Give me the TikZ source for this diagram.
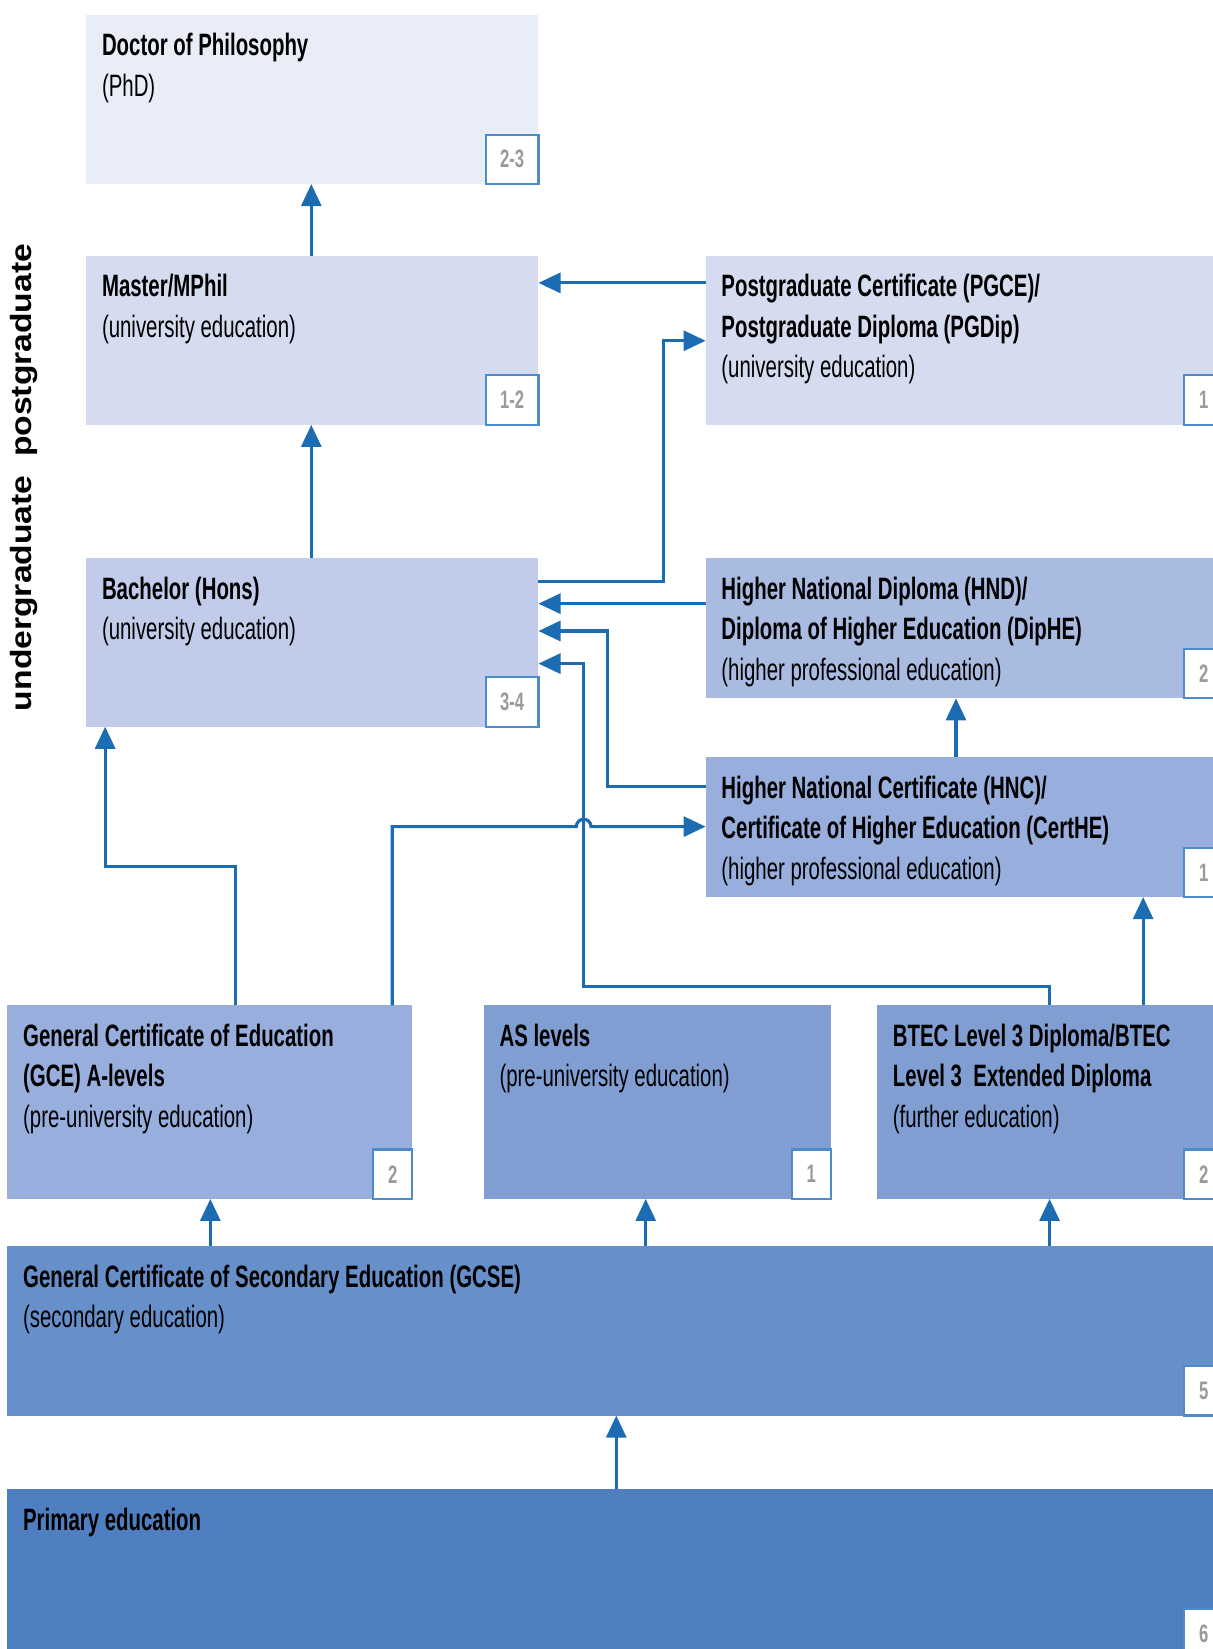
\documentclass[tikz,border=0pt]{standalone}
\usepackage{fontspec}
\usepackage{graphicx}
\setmainfont{Liberation Sans}
\newfontfamily\nfont{Liberation Sans}[FakeStretch=0.66]
\usetikzlibrary{fit,arrows.meta}

\definecolor{cPhD}{HTML}{E9EDF8}
\definecolor{cMaster}{HTML}{D6DCF0}
\definecolor{cBach}{HTML}{C1CCEA}
\definecolor{cHND}{HTML}{AABBE2}
\definecolor{cHNC}{HTML}{98AEDC}
\definecolor{cAS}{HTML}{809ED2}
\definecolor{cGCSE}{HTML}{678FC9}
\definecolor{cPrim}{HTML}{4F7FC0}
\definecolor{arrowblue}{HTML}{1C6CB4}
\definecolor{badgeblue}{HTML}{4D8ACB}
\definecolor{badgegray}{HTML}{9A9A9A}

\tikzset{
  box/.style={inner sep=0pt, outer sep=0pt, draw=none},
  lbl/.style={anchor=base west, inner sep=0pt, outer sep=0pt,
    font=\nfont\fontsize{14.7}{19.25}\selectfont},
  badge/.style={anchor=south east, draw=badgeblue, line width=1pt, fill=white,
    minimum height=23.5pt, minimum width=18.5pt, inner sep=0pt, outer sep=0pt,
    font=\nfont\bfseries\fontsize{12}{13}\selectfont, text=badgegray},
  widebadge/.style={badge, minimum width=25pt},
  arr/.style={draw=arrowblue, line width=1.5pt, -{Triangle[length=10.5pt,width=9.5pt]}},
}

\newcommand\edubox[7]{%
  \node[box, fill=#4, fit={#2 #3}] (#1) {};
  \node[lbl] (#1-t) at ([xshift=7.5pt,yshift=-19.5pt]#1.north west)
    {\begin{tabular}[t]{@{}l@{}}#5\end{tabular}};
  \node[#7] (#1-b) at (#1.south east) {#6};
}

\begin{document}
\begin{tikzpicture}[x=0.5pt, y=-0.5pt]
\useasboundingbox (0,0) rectangle (1153,1568);

% boxes
\edubox{phd}{(82,14)}{(512,175)}{cPhD}{\textbf{Doctor of Philosophy}\\(PhD)}{2-3}{widebadge}
\edubox{master}{(82,243)}{(512,404)}{cMaster}{\textbf{Master/MPhil}\\(university education)}{1-2}{widebadge}
\edubox{bach}{(82,531)}{(512,691)}{cBach}{\textbf{Bachelor (Hons)}\\(university education)}{3-4}{widebadge}
\edubox{pg}{(671,243)}{(1163,404)}{cMaster}{\textbf{Postgraduate Certificate (PGCE)/}\\\textbf{Postgraduate Diploma (PGDip)}\\(university education)}{1}{badge}
\edubox{hnd}{(671,531)}{(1163,664)}{cHND}{\textbf{Higher National Diploma (HND)/}\\\textbf{Diploma of Higher Education (DipHE)}\\(higher professional education)}{2}{badge}
\edubox{hnc}{(671,720)}{(1163,853)}{cHNC}{\textbf{Higher National Certificate (HNC)/}\\\textbf{Certificate of Higher Education (CertHE)}\\(higher professional education)}{1}{badge}
\edubox{gce}{(7,956)}{(392,1140)}{cHNC}{\textbf{General Certificate of Education}\\\textbf{(GCE) A-levels}\\(pre-university education)}{2}{badge}
\edubox{as}{(460,956)}{(790,1140)}{cAS}{\textbf{AS levels}\\(pre-university education)}{1}{badge}
\edubox{btec}{(834,956)}{(1163,1140)}{cAS}{\textbf{BTEC Level 3 Diploma/BTEC}\\\textbf{Level 3\ \ Extended Diploma}\\(further education)}{2}{badge}
\edubox{gcse}{(7,1185)}{(1163,1346)}{cGCSE}{\textbf{General Certificate of Secondary Education (GCSE)}\\(secondary education)}{5}{badge}
\edubox{prim}{(7,1416)}{(1163,1577)}{cPrim}{\textbf{Primary education}}{6}{badge}

% side label
\node[rotate=90, inner sep=0pt, font=\bfseries\fontsize{16}{18}\selectfont] (side) at (23,454)
  {\scalebox{1}[0.87]{undergraduate\hspace{0.55em}postgraduate}};

% connectors
\draw[arr] ([xshift=107pt]master.north west) -- ([xshift=107pt]phd.south west);
\draw[arr] ([xshift=107pt]bach.north west) -- ([xshift=107pt]master.south west);
\draw[arr] ([yshift=-13pt]pg.north west) -- ([yshift=-13pt]master.north east);
\draw[arr] ([yshift=-11pt]bach.north east) -- ++(119,0) |- ([yshift=-40.5pt]pg.north west);
\draw[arr] ([yshift=-21.5pt]hnd.north west) -- ([yshift=-21.5pt]bach.north east);
\draw[arr] ([yshift=-14pt]hnc.north west) -| ([xshift=33pt,yshift=-34.5pt]bach.north east)
  -- ([yshift=-34.5pt]bach.north east);
\draw[arr] ([xshift=82pt]btec.north west) -- ++(0,-18)
  -| ([xshift=21.5pt,yshift=-50pt]bach.north east) -- ([yshift=-50pt]bach.north east);
\draw[arr] ([xshift=108.5pt]gce.north west) -- ++(0,-132) -| ([xshift=9pt]bach.south west);
\draw[arr] ([xshift=183pt]gce.north west) |- ([xshift=-61.5pt,yshift=-33pt]hnc.north west)
  arc[start angle=180, end angle=0, radius=3.5pt] -- ([yshift=-33pt]hnc.north west);
\draw[arr] ([xshift=119pt]hnc.north west) -- ([xshift=119pt]hnd.south west);
\draw[arr] ([xshift=126.5pt]btec.north west) -- ([xshift=208pt]hnc.south west);
\draw[arr] ([xshift=96.5pt]gcse.north west) -- ([xshift=96.5pt]gce.south west);
\draw[arr] ([xshift=303.5pt]gcse.north west) -- ([xshift=77pt]as.south west);
\draw[arr] ([xshift=495.5pt]gcse.north west) -- ([xshift=82pt]btec.south west);
\draw[arr] ([xshift=289.5pt]prim.north west) -- ([xshift=289.5pt]gcse.south west);
\end{tikzpicture}
\end{document}
